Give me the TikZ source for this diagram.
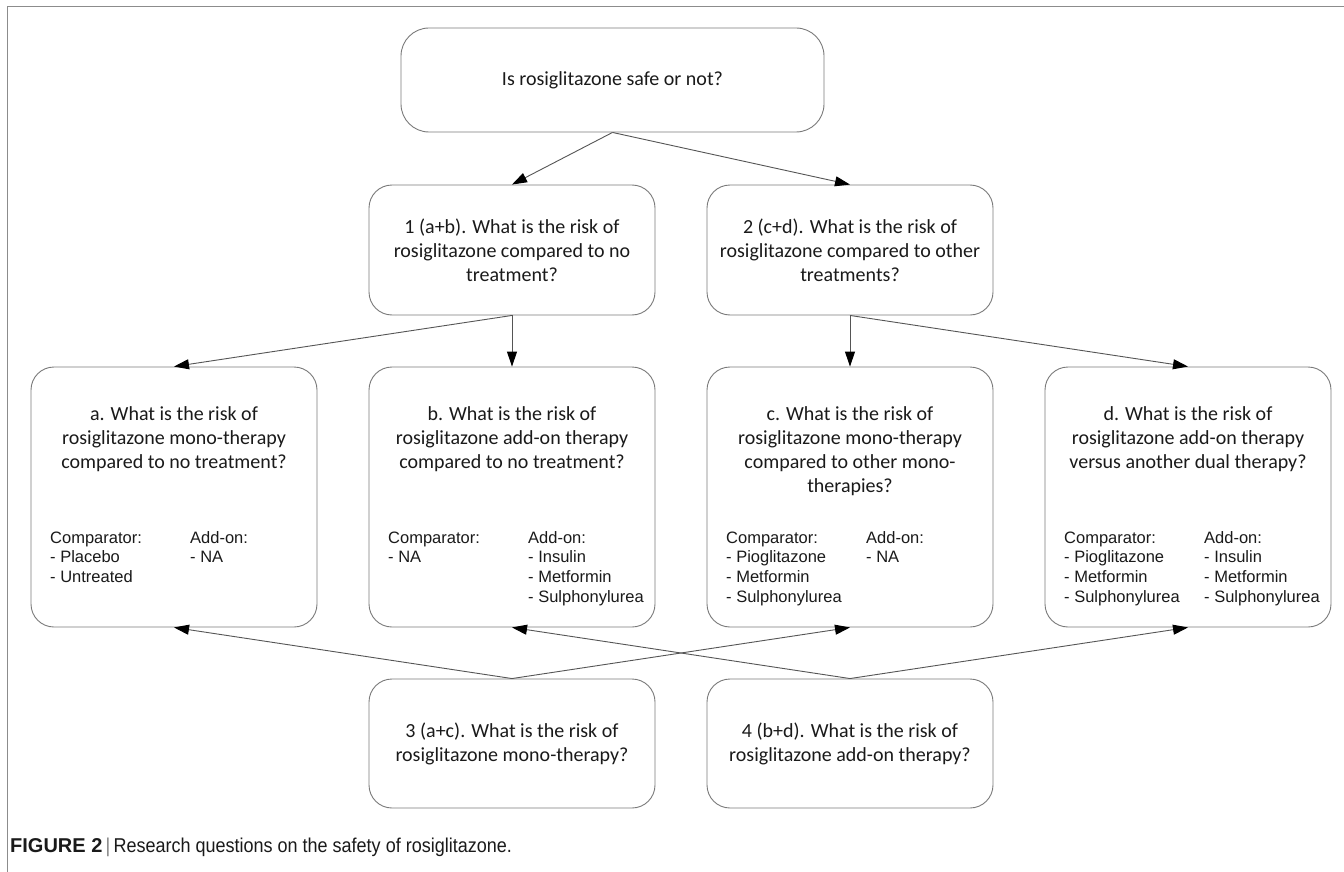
\documentclass[tikz,border=0pt]{standalone}
\usepackage{fontspec}
\setmainfont{Carlito}
\newfontfamily\mylistfont{Liberation Sans}
\newfontfamily\mycapfont[FakeStretch=0.9]{Liberation Sans}
\usetikzlibrary{arrows.meta}
\definecolor{boxgray}{HTML}{7A7A7A}
\definecolor{arrgray}{HTML}{555555}
\definecolor{framegray}{HTML}{8C8C8C}
\definecolor{txt}{HTML}{1A1A1A}
\newcommand{\myqfont}{\fontsize{20}{24}\selectfont}
\newcommand{\mylfont}{\mylistfont\fontsize{16.5}{19.7}\selectfont}
\begin{document}
\begin{tikzpicture}[x=1pt,y=-1pt,
  box/.style={draw=boxgray, line width=0.9pt, rounded corners=23pt,
    minimum width=286pt, minimum height=130pt, inner sep=0pt,
    align=center, font=\myqfont, text=txt},
  qtext/.style={anchor=base, inner sep=0pt, font=\myqfont, text=txt},
  ltext/.style={anchor=base west, inner sep=0pt, font=\mylfont, text=txt},
  arr/.style={draw=arrgray, line width=0.9pt,
    -{Triangle[length=15pt,width=10pt,color=black]}}
]
\useasboundingbox (0,0) rectangle (1344,872);
\fill[white] (0,0) rectangle (1344,872);
% frame
\draw[framegray, line width=1pt] (1344,7) -- (7,7) -- (7,872);

% top
\node[box, minimum width=423pt, minimum height=104pt, rounded corners=28pt] (top) at (612.5,80) {Is rosiglitazone safe or not?};

% row 2
\node[box] (q1) at (512,250) {1 (a+b). What is the risk of\\rosiglitazone compared to no\\treatment?};
\node[box] (q2) at (850,250) {2 (c+d). What is the risk of\\rosiglitazone compared to other\\treatments?};

% row 3 boxes
\node[box, minimum height=260pt] (a) at (174,497) {};
\node[box, minimum height=260pt] (b) at (512,497) {};
\node[box, minimum height=260pt] (c) at (850,497) {};
\node[box, minimum height=260pt] (d) at (1188,497) {};

% row 3 questions
\node[qtext] (aq) at (174,420) {\begin{tabular}[t]{@{}c@{}}a. What is the risk of\\rosiglitazone mono-therapy\\compared to no treatment?\end{tabular}};
\node[qtext] (bq) at (512,420) {\begin{tabular}[t]{@{}c@{}}b. What is the risk of\\rosiglitazone add-on therapy\\compared to no treatment?\end{tabular}};
\node[qtext] (cq) at (850,420) {\begin{tabular}[t]{@{}c@{}}c. What is the risk of\\rosiglitazone mono-therapy\\compared to other mono-\\therapies?\end{tabular}};
\node[qtext] (dq) at (1188,420) {\begin{tabular}[t]{@{}c@{}}d. What is the risk of\\rosiglitazone add-on therapy\\versus another dual therapy?\end{tabular}};

% row 3 lists
\node[ltext] (al) at (50,543) {\begin{tabular}[t]{@{}l@{}}Comparator:\\- Placebo\\- Untreated\end{tabular}};
\node[ltext] (ar) at (190,543) {\begin{tabular}[t]{@{}l@{}}Add-on:\\- NA\end{tabular}};
\node[ltext] (bl) at (388,543) {\begin{tabular}[t]{@{}l@{}}Comparator:\\- NA\end{tabular}};
\node[ltext] (br) at (528,543) {\begin{tabular}[t]{@{}l@{}}Add-on:\\- Insulin\\- Metformin\\- Sulphonylurea\end{tabular}};
\node[ltext] (cl) at (726,543) {\begin{tabular}[t]{@{}l@{}}Comparator:\\- Pioglitazone\\- Metformin\\- Sulphonylurea\end{tabular}};
\node[ltext] (cr) at (866,543) {\begin{tabular}[t]{@{}l@{}}Add-on:\\- NA\end{tabular}};
\node[ltext] (dl) at (1064,543) {\begin{tabular}[t]{@{}l@{}}Comparator:\\- Pioglitazone\\- Metformin\\- Sulphonylurea\end{tabular}};
\node[ltext] (dr) at (1204,543) {\begin{tabular}[t]{@{}l@{}}Add-on:\\- Insulin\\- Metformin\\- Sulphonylurea\end{tabular}};

% row 4
\node[box, minimum height=129pt] (q3) at (512,743.5) {3 (a+c). What is the risk of\\rosiglitazone mono-therapy?};
\node[box, minimum height=129pt] (q4) at (850,743.5) {4 (b+d). What is the risk of\\rosiglitazone add-on therapy?};

% arrows
\draw[arr] (top.south) -- (q1.north);
\draw[arr] (top.south) -- (q2.north);
\draw[arr] (q1.south) -- (a.north);
\draw[arr] (q1.south) -- (b.north);
\draw[arr] (q2.south) -- (c.north);
\draw[arr] (q2.south) -- (d.north);
\draw[arr] (q3.north) -- (a.south);
\draw[arr] (q3.north) -- (c.south);
\draw[arr] (q4.north) -- (b.south);
\draw[arr] (q4.north) -- (d.south);

% caption
\node[anchor=base west, inner sep=0pt, text=txt] (cap) at (10,852.5)
  {{\mylistfont\bfseries\fontsize{20}{22}\selectfont FIGURE 2}\hspace{3pt}{\color{framegray}\mylistfont\fontsize{20}{22}\selectfont|}\hspace{3pt}{\mycapfont\fontsize{20}{22}\selectfont Research questions on the safety of rosiglitazone.}};
\end{tikzpicture}
\end{document}
